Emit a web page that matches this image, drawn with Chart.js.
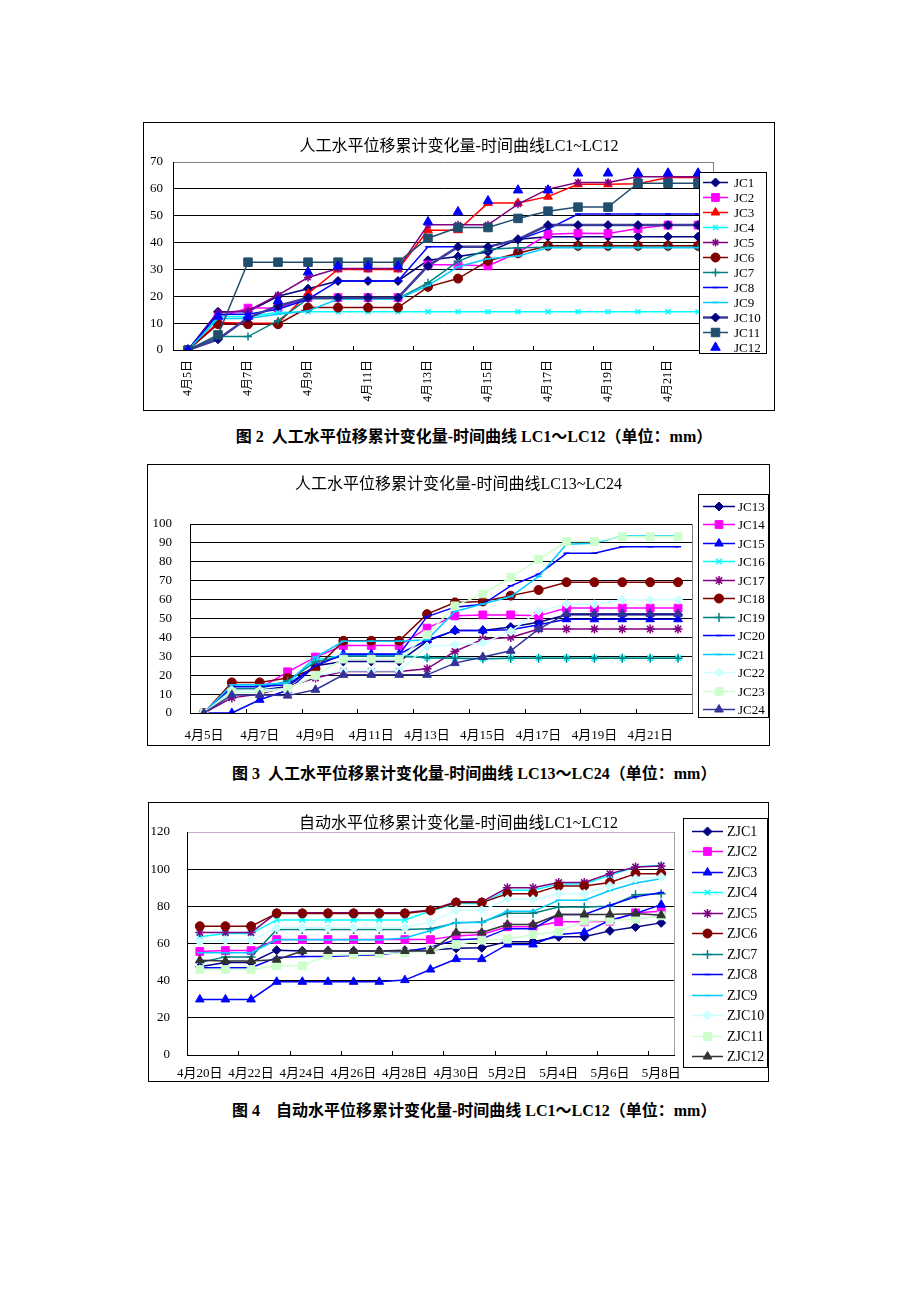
<!DOCTYPE html>
<html lang="zh">
<head>
<meta charset="utf-8">
<title>水平位移累计变化量-时间曲线</title>
<script src="https://cdn.jsdelivr.net/npm/chart.js@4.4.1/dist/chart.umd.min.js"></script>
<style>
  html, body { margin: 0; padding: 0; background: #fff; }
  body { position: relative; width: 920px; height: 1302px; font-family: "Liberation Serif", "Noto Sans CJK SC", serif; }
  .box { position: absolute; border: 1px solid #000; background: #fff; }
  .box canvas { position: absolute; left: 0; top: 0; }
  .ttl { position: absolute; left: 0; right: 0; text-align: center; font-size: 16px; line-height: 20px; color: #000; white-space: nowrap; z-index: 2; }
  .cap { position: absolute; left: 232px; width: 484px; text-align: center; font-weight: bold; font-size: 16px; line-height: 20px; white-space: nowrap; }
</style>
</head>
<body>

<div class="box" style="left:143px; top:122px; width:630px; height:287px;">
  <div class="ttl" style="top:13px;">人工水平位移累计变化量-时间曲线LC1~LC12</div>
  <canvas id="chart1" width="630" height="287"></canvas>
</div>
<div class="cap" style="top:427px;">图 2&nbsp; 人工水平位移累计变化量-时间曲线 LC1～LC12（单位：mm）</div>

<div class="box" style="left:147px; top:464px; width:621px; height:280px;">
  <div class="ttl" style="top:9px;">人工水平位移累计变化量-时间曲线LC13~LC24</div>
  <canvas id="chart2" width="621" height="280"></canvas>
</div>
<div class="cap" style="top:764px;">图 3&nbsp; 人工水平位移累计变化量-时间曲线 LC13～LC24（单位：mm）</div>

<div class="box" style="left:148px; top:802px; width:619px; height:278px;">
  <div class="ttl" style="top:10px;">自动水平位移累计变化量-时间曲线LC1~LC12</div>
  <canvas id="chart3" width="619" height="278"></canvas>
</div>
<div class="cap" style="top:1101px;">图 4　自动水平位移累计变化量-时间曲线 LC1～LC12（单位：mm）</div>

<script>
const SERIF = '"Liberation Serif", "Noto Sans CJK SC", serif';

// ---------- 图2: 人工 LC1~LC12 ----------
const days1 = ['4月5日', '4月6日', '4月7日', '4月8日', '4月9日', '4月10日', '4月11日', '4月12日', '4月13日',
  '4月14日', '4月15日', '4月16日', '4月17日', '4月18日', '4月19日', '4月20日', '4月21日', '4月22日'];
const jc1 = [0, 14.2, 14.2, 20, 22.8, 25.7, 25.7, 25.7, 33.4, 34.8, 36.5, 41.2, 42.2, 42.2, 42.2, 42.2, 42.2, 42.2];
const jc2 = [0, 12, 15.6, 15.6, 19.5, 19.5, 19.5, 19.5, 31.7, 31.7, 31.3, 36.3, 43.1, 43.5, 43.4, 45.2, 46.5, 46.5];
const jc3 = [0, 10.2, 10, 10, 21, 30, 30, 30, 44.6, 44.6, 54.7, 54.7, 57.1, 61.7, 61.7, 61.9, 64.2, 64.2];
const jc4 = [0, 12.5, 12.5, 14, 14.2, 14.2, 14.2, 14.2, 14.2, 14.2, 14.2, 14.2, 14.2, 14.2, 14.2, 14.2, 14.2, 14.2];
const jc5 = [0, 14, 14.6, 20.4, 27, 30.3, 30.3, 30.3, 46.6, 46.6, 46.6, 54.3, 59.9, 62.4, 62.4, 64.5, 64.5, 64.5];
const jc6 = [0, 9.6, 9.6, 9.6, 15.8, 15.8, 15.8, 15.8, 23.5, 26.6, 33.2, 36, 38.8, 38.8, 38.8, 38.8, 38.8, 38.8];
const jc7 = [0, 5, 5, 10.9, 19.1, 19.1, 19.1, 19.1, 25, 33, 37.5, 38.1, 38.3, 38.3, 38.3, 38.3, 38.3, 38.3];
const jc8 = [0, 13.3, 13.3, 15.2, 18.9, 25.7, 25.7, 25.7, 38.4, 38.4, 38.4, 41, 45, 50.6, 50.6, 50.6, 50.6, 50.6];
const jc9 = [0, 11.7, 11.7, 13.3, 14.5, 19, 19, 19, 24, 31, 34, 35, 38.1, 38.1, 38.1, 38.1, 38.1, 38.1];
const jc10 = [0, 4, 12, 16.4, 19.5, 19.5, 19.5, 19.5, 31.3, 38.4, 38.4, 41.2, 46.5, 46.5, 46.5, 46.5, 46.5, 46.5];
const jc11 = [0, 5.6, 32.7, 32.7, 32.7, 32.7, 32.7, 32.7, 41.6, 45.6, 45.6, 49, 51.7, 53.2, 53.2, 62.1, 62.1, 62.1];
const jc12 = [0, 12.5, 12.5, 18.3, 29, 31.2, 31.2, 31.2, 47.7, 51.4, 55.5, 59.5, 59.5, 65.8, 65.8, 65.8, 65.8, 65.8];

// ---------- 图3: 人工 LC13~LC24 ----------
const days2 = days1;
const jc13 = [0, 12, 12, 14, 25, 27.3, 27.3, 27.3, 37.9, 43.7, 43.7, 45.5, 48, 52, 52, 52, 52, 52];
const jc14 = [0, 13, 13, 21.8, 29.6, 35.7, 35.7, 35.7, 44.9, 51.4, 51.9, 51.9, 51.4, 55.5, 55.5, 55.5, 55.5, 55.5];
const jc15 = [0, 0, 7, 12, 25, 31.2, 31.2, 31.2, 38.5, 43.7, 43.7, 44, 46.7, 49.6, 49.6, 49.6, 49.6, 49.6];
const jc16 = [0, 14, 14, 16, 28, 30.5, 30.5, 30.5, 29.2, 29, 28.7, 29, 29, 29, 29, 29, 29, 29];
const jc17 = [0, 8, 10, 14, 18.5, 22, 22, 22, 23.4, 32.6, 39, 40, 44.4, 44.4, 44.4, 44.4, 44.4, 44.4];
const jc18 = [0, 16.2, 16.2, 18.5, 23.4, 38.2, 38.2, 38.2, 52.3, 58.5, 59, 62.1, 65.1, 69.2, 69.2, 69.2, 69.2, 69.2];
const jc19 = [0, 13, 13, 17, 27, 30, 30, 30, 29.2, 29, 28.7, 29, 29, 29, 29, 29, 29, 29];
const jc20 = [0, 14, 14, 15, 25, 31, 31, 31, 51, 56, 57.5, 67.3, 73.4, 84.5, 84.5, 88, 88, 88];
const jc21 = [0, 15, 15, 16, 29.6, 37.9, 37.9, 37.9, 38.7, 53.7, 57.7, 61.6, 72.2, 89.3, 89.8, 93.7, 93.7, 93.7];
const jc22 = [0, 12, 12, 13, 19.7, 22.4, 22.4, 22.4, 35.2, 36.1, 37, 43.1, 54, 57.6, 57.6, 59.9, 59.9, 59.9];
const jc23 = [0, 11, 11, 13, 20, 28.5, 28.5, 28.5, 41.4, 56.7, 63, 71.8, 81.3, 90.7, 90.7, 93.3, 93.3, 93.3];
const jc24 = [0, 9.5, 9.5, 9.2, 12.3, 20.2, 20.2, 20.2, 20.2, 26.4, 29.6, 32.9, 44.4, 52.5, 52.5, 52.5, 52.5, 52.5];

// ---------- 图4: 自动 LC1~LC12 ----------
const days3 = ['4月20日', '4月21日', '4月22日', '4月23日', '4月24日', '4月25日', '4月26日', '4月27日', '4月28日',
  '4月29日', '4月30日', '5月1日', '5月2日', '5月3日', '5月4日', '5月5日', '5月6日', '5月7日', '5月8日'];
const zjc1 = [47.5, 49.8, 49.8, 56.4, 56, 56, 56, 56, 56.4, 56.5, 57.4, 57.7, 61, 61, 63.6, 63.6, 66.8, 68.9, 71.1];
const zjc2 = [55.7, 56.2, 56.2, 62.1, 62.1, 62.1, 62.1, 62.1, 62.1, 62.1, 64.1, 64.8, 69, 69, 71.7, 71.7, 72, 76.5, 77.3];
const zjc3 = [29.9, 29.9, 29.9, 39.4, 39.4, 39.4, 39.4, 39.4, 40.3, 46, 51.6, 51.6, 59.5, 59.5, 64.8, 65.9, 72.5, 76.1, 80.9];
const zjc4 = [63.6, 65.4, 65.4, 72.7, 72.7, 72.7, 72.7, 72.7, 72.7, 77.5, 81.5, 81.5, 88.7, 88.7, 92, 92, 96.7, 101.2, 102.1];
const zjc5 = [65.9, 65.9, 65.9, 76.5, 76.5, 76.5, 76.5, 76.5, 76.5, 78, 82.4, 82.4, 90, 90, 92.8, 92.8, 97.6, 101.2, 101.7];
const zjc6 = [69.3, 69.3, 69.3, 76.2, 76.2, 76.2, 76.2, 76.2, 76.2, 77.8, 82, 82, 86.8, 86.8, 91, 91, 92.8, 97.6, 97.6];
const zjc7 = [49.8, 52.8, 52.8, 67.5, 67.5, 67.5, 67.5, 67.5, 67.5, 68, 71.1, 71.6, 76.3, 76.3, 79.6, 79.6, 80.1, 86.3, 86.8];
const zjc8 = [47, 47, 47, 52.5, 53, 53, 53.5, 54, 55.5, 58, 62, 62.5, 68, 68, 75.6, 75.6, 80.6, 85.1, 87.5];
const zjc9 = [55, 55, 55, 62, 62, 62, 62, 62, 63, 67, 71.3, 71.3, 77.3, 77.3, 83.3, 83.3, 88.5, 92.6, 94.9];
const zjc10 = [60.9, 61.7, 61.7, 68.5, 68.5, 68.5, 68.5, 68.5, 68.5, 71.5, 77.9, 77.9, 83.8, 83.8, 86.8, 86.8, 91, 94.9, 95.8];
const zjc11 = [46, 46, 46, 48, 48, 53.7, 54, 54.5, 55, 56, 59.5, 61.8, 62.3, 64.8, 66.3, 72, 72.5, 73.1, 74.9];
const zjc12 = [51, 50.6, 50.6, 51.3, 55.9, 56, 56, 56, 56, 56, 65.9, 65.9, 70.2, 70.2, 75.6, 75.6, 75.6, 76.1, 75.2];

// one series: Excel-like line with marker
function series(label, data, color, style, radius, extra) {
  return Object.assign({
    label: label,
    data: data,
    borderColor: color,
    backgroundColor: color,
    pointBackgroundColor: color,
    pointBorderColor: color,
    pointStyle: style,
    pointRadius: radius,
    pointBorderWidth: (style === 'line' || style === 'star' || style === 'cross' || style === 'crossRot') ? 1.5 : 1,
    borderWidth: 1.5,
    tension: 0,
    fill: false
  }, extra || {});
}

// plot frame, inward tick marks and the boxed legend
const excelFrame = {
  id: 'excelFrame',
  beforeDatasetsDraw(chart, args, opts) {
    const ctx = chart.ctx, a = chart.chartArea, x = chart.scales.x;
    ctx.save();
    ctx.lineWidth = 1;
    ctx.strokeStyle = opts.frameColor || '#808080';
    ctx.beginPath();
    ctx.moveTo(Math.round(a.right) + 0.5, a.top);
    ctx.lineTo(Math.round(a.right) + 0.5, a.bottom);
    ctx.stroke();
    ctx.strokeStyle = '#000';
    ctx.beginPath();
    for (let i = 2; i < x.ticks.length; i += 2) {
      const px = Math.round((x.getPixelForTick(i - 1) + x.getPixelForTick(i)) / 2) + 0.5;
      ctx.moveTo(px, a.bottom);
      ctx.lineTo(px, a.bottom - 4);
    }
    ctx.stroke();
    ctx.restore();
  },
  afterDraw(chart, args, opts) {
    const lg = opts.legend;
    if (!lg) return;
    const ctx = chart.ctx;
    ctx.save();
    ctx.fillStyle = '#fff';
    ctx.fillRect(lg.x, lg.y, lg.w, lg.h);
    ctx.strokeStyle = '#000';
    ctx.lineWidth = 1;
    ctx.strokeRect(lg.x + 0.5, lg.y + 0.5, lg.w, lg.h);
    ctx.font = lg.fontSize + 'px ' + SERIF;
    ctx.textBaseline = 'middle';
    chart.data.datasets.forEach((ds, i) => {
      const cy = Math.round(lg.y + lg.first + i * lg.row) + 0.5;
      if (ds.showLine !== false) {
        ctx.strokeStyle = ds.borderColor;
        ctx.lineWidth = ds.borderWidth;
        ctx.beginPath();
        ctx.moveTo(lg.x1, cy);
        ctx.lineTo(lg.x2, cy);
        ctx.stroke();
      }
      ctx.fillStyle = ds.pointBackgroundColor;
      ctx.strokeStyle = ds.pointBorderColor;
      ctx.lineWidth = ds.pointBorderWidth;
      if (Chart.helpers && Chart.helpers.drawPoint) {
        Chart.helpers.drawPoint(ctx, {
          pointStyle: ds.pointStyle, radius: ds.pointRadius, rotation: 0, borderWidth: ds.pointBorderWidth
        }, (lg.x1 + lg.x2) / 2, cy);
      }
      ctx.fillStyle = '#000';
      ctx.fillText(ds.label, lg.tx, cy + 1);
    });
    ctx.restore();
  }
};

function buildChart(id, cfg) {
  cfg.datasets.forEach((ds, i) => { ds.order = -i; });
  return new Chart(document.getElementById(id), {
    type: 'line',
    data: { labels: cfg.labels, datasets: cfg.datasets },
    options: {
      responsive: false,
      animation: false,
      devicePixelRatio: 1,
      layout: { padding: cfg.padding },
      plugins: {
        legend: { display: false },
        tooltip: { enabled: false },
        excelFrame: { legend: cfg.legend, frameColor: cfg.frameColor }
      },
      scales: {
        x: {
          type: 'category',
          offset: true,
          grid: { display: false, drawTicks: false },
          border: { color: '#000', width: 1 },
          ticks: {
            autoSkip: false,
            maxRotation: cfg.rot,
            minRotation: cfg.rot,
            padding: cfg.xPad,
            color: '#000',
            font: { family: SERIF, size: cfg.xFont },
            callback: (v, i) => (i % 2 === 0 ? cfg.labels[i] : '')
          },
          afterFit: s => { s.height = cfg.xHeight; }
        },
        y: {
          min: 0,
          max: cfg.yMax,
          grid: {
            color: c => (c.tick && c.tick.value === cfg.yMax ? cfg.topColor : '#000'),
            drawTicks: false,
            lineWidth: 1
          },
          border: { color: '#000', width: 1 },
          ticks: {
            stepSize: cfg.yStep,
            padding: cfg.yPad,
            color: '#000',
            font: { family: SERIF, size: 13 }
          },
          afterFit: s => { s.width = cfg.yWidth; }
        }
      }
    },
    plugins: [excelFrame]
  });
}

const NAVY = '#000080', MAGENTA = '#FF00FF', RED = '#FF0000', CYAN = '#00FFFF', PURPLE = '#800080',
  DARKRED = '#800000', TEAL = '#008080', BLUE = '#0000FF', SKY = '#00CCFF', PALECYAN = '#CCFFFF',
  PALEGREEN = '#CCFFCC', SLATE = '#333399', GRAY = '#333333', STEEL = '#1F4E6E';

buildChart('chart1', {
  labels: days1,
  datasets: [
    series('JC1', jc1, NAVY, 'rectRot', 4.5),
    series('JC2', jc2, MAGENTA, 'rect', 5.5),
    series('JC3', jc3, RED, 'triangle', 5),
    series('JC4', jc4, CYAN, 'crossRot', 3.5),
    series('JC5', jc5, PURPLE, 'star', 4),
    series('JC6', jc6, DARKRED, 'circle', 4.5),
    series('JC7', jc7, TEAL, 'cross', 4),
    series('JC8', jc8, BLUE, 'line', 3),
    series('JC9', jc9, SKY, 'line', 3),
    series('JC10', jc10, NAVY, 'rectRot', 4.5, { borderColor: '#3C3C9C', borderWidth: 2.5 }),
    series('JC11', jc11, STEEL, 'rect', 6),
    series('JC12', jc12, BLUE, 'triangle', 5.5, { showLine: false })
  ],
  padding: { left: 0, right: 61, top: 39, bottom: 0 },
  yWidth: 29, yMax: 70, yStep: 10, yPad: 10, topColor: '#808080',
  xHeight: 60, xPad: 10, xFont: 12, rot: 90, frameColor: '#808080',
  legend: { x: 555, y: 49, w: 67, h: 181, first: 9.7, row: 15, x1: 559, x2: 584, tx: 590, fontSize: 13 }
});

buildChart('chart2', {
  labels: days2,
  datasets: [
    series('JC13', jc13, NAVY, 'rectRot', 4.5),
    series('JC14', jc14, MAGENTA, 'rect', 5.5),
    series('JC15', jc15, BLUE, 'triangle', 5),
    series('JC16', jc16, CYAN, 'crossRot', 4),
    series('JC17', jc17, PURPLE, 'star', 4.5),
    series('JC18', jc18, DARKRED, 'circle', 4.5),
    series('JC19', jc19, TEAL, 'cross', 4.5),
    series('JC20', jc20, BLUE, 'line', 3),
    series('JC21', jc21, SKY, 'line', 3),
    series('JC22', jc22, PALECYAN, 'rectRot', 4.5),
    series('JC23', jc23, PALEGREEN, 'rect', 5.5),
    series('JC24', jc24, SLATE, 'triangle', 5)
  ],
  padding: { left: 0, right: 77, top: 59, bottom: 0 },
  yWidth: 42, yMax: 100, yStep: 10, yPad: 18, topColor: '#000',
  xHeight: 32, xPad: 15, xFont: 13, rot: 0, frameColor: '#808080',
  legend: { x: 550, y: 29, w: 70, h: 223, first: 11.7, row: 18.5, x1: 555, x2: 587, tx: 590, fontSize: 13 }
});

buildChart('chart3', {
  labels: days3,
  datasets: [
    series('ZJC1', zjc1, NAVY, 'rectRot', 4.5),
    series('ZJC2', zjc2, MAGENTA, 'rect', 5.5),
    series('ZJC3', zjc3, BLUE, 'triangle', 5),
    series('ZJC4', zjc4, CYAN, 'crossRot', 4),
    series('ZJC5', zjc5, PURPLE, 'star', 4.5),
    series('ZJC6', zjc6, DARKRED, 'circle', 4.5),
    series('ZJC7', zjc7, TEAL, 'cross', 4.5),
    series('ZJC8', zjc8, BLUE, 'line', 3),
    series('ZJC9', zjc9, SKY, 'line', 3),
    series('ZJC10', zjc10, PALECYAN, 'rectRot', 4.5),
    series('ZJC11', zjc11, PALEGREEN, 'rect', 5.5),
    series('ZJC12', zjc12, GRAY, 'triangle', 5)
  ],
  padding: { left: 0, right: 94, top: 29, bottom: 0 },
  yWidth: 38, yMax: 120, yStep: 20, yPad: 17, topColor: '#C8A8D8',
  xHeight: 26, xPad: 11, xFont: 13, rot: 0, frameColor: '#A0A0A0',
  legend: { x: 534, y: 15, w: 84, h: 249, first: 12.7, row: 20.5, x1: 543, x2: 574, tx: 578, fontSize: 14 }
});
</script>
</body>
</html>
